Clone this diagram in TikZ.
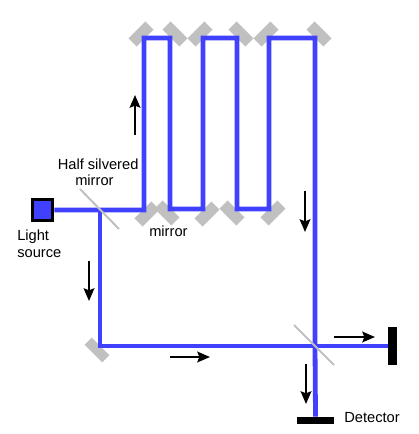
\documentclass[tikz,border=0pt]{standalone}
\usepackage{fontspec}
\setmainfont{Liberation Sans}
\usetikzlibrary{arrows.meta}
\definecolor{beamblue}{HTML}{4040FF}
\definecolor{silver}{HTML}{C0C0C0}
\tikzset{
  beam/.style={beamblue, line width=3.6pt, line join=miter},
  mirrorup/.style={fill=silver, minimum width=18pt, minimum height=8.6pt, inner sep=0pt, rotate=45},
  mirrordown/.style={mirrorup, rotate=-90},
  halfmirror/.style={silver, line width=1.5pt},
  flow/.style={-{Stealth[length=9.5pt, width=8pt, inset=1.5pt]}, line width=1.7pt},
  stopper/.style={fill=black, inner sep=0pt},
  label/.style={font=\fontsize{11pt}{12pt}\selectfont, inner sep=0pt, anchor=base west},
}

\begin{document}
\begin{tikzpicture}[x=0.75pt, y=-0.75pt]
  \useasboundingbox (0,0) rectangle (418,434);
  % Top row of mirrors
  \node[mirrorup] (top1) at (141,34) {};
  \node[mirrordown] (top2) at (175,34) {};
  \node[mirrorup] (top3) at (200,34) {};
  \node[mirrordown] (top4) at (241,34) {};
  \node[mirrorup] (top5) at (266,34) {};
  \node[mirrordown] (top6) at (319,34) {};
  % Bottom row of mirrors
  \node[mirrorup] (bot1) at (147,214) {};
  \node[mirrordown] (bot2) at (167,213) {};
  \node[mirrorup] (bot3) at (207,214) {};
  \node[mirrordown] (bot4) at (232,213) {};
  \node[mirrorup] (bot5) at (273,213) {};
  \node[mirrordown, minimum width=18.75pt, minimum height=7.5pt] (back) at (97,350) {};
  % Source and end stops
  \node[draw=black, line width=2.2pt, fill=beamblue, minimum size=15.5pt, inner sep=0pt] (source) at (42.5,210) {};
  \node[stopper, minimum width=28pt, minimum height=5.5pt] (detector) at (315.5,420.5) {};
  \node[stopper, minimum width=6.5pt, minimum height=28.5pt] (stop) at (392.5,346) {};
  % Beam path
  \coordinate (split1) at (100,210);
  \coordinate (split2) at (315,346);
  \draw[beam] (source.east) -- (144,210) -- (144,38) -- (170,38) -- (170,209) -- (203,209)
    -- (203,38) -- (237,38) -- (237,209) -- (269,209) -- (269,38) -- (315,38) -- (split2) -- (detector.north);
  \draw[beam] (split1) -- (100,346) -- (split2) -- (stop.west);
  % Half silvered mirrors
  \draw[halfmirror] (80,189) -- (119,229);
  \draw[halfmirror] (294,325) -- (334,365);
  % Direction arrows
  \draw[flow] (135,135) -- (135,95);
  \draw[flow] (305,191) -- (305,232);
  \draw[flow] (89,261) -- (89,301);
  \draw[flow] (170,357) -- (210,357);
  \draw[flow] (334,337) -- (375,337);
  \draw[flow] (306,364) -- (306,404);
  % Labels
  \node[label] (half1) at (57.5,170) {Half silvered};
  \node[label] (half2) at (75,186) {mirror};
  \node[label] (light1) at (17,240) {Light};
  \node[label] (light2) at (17,257) {source};
  \node[label] (mirrorlabel) at (149,236) {mirror};
  \node[label] (detectorlabel) at (344,422) {Detector};
\end{tikzpicture}
\end{document}
